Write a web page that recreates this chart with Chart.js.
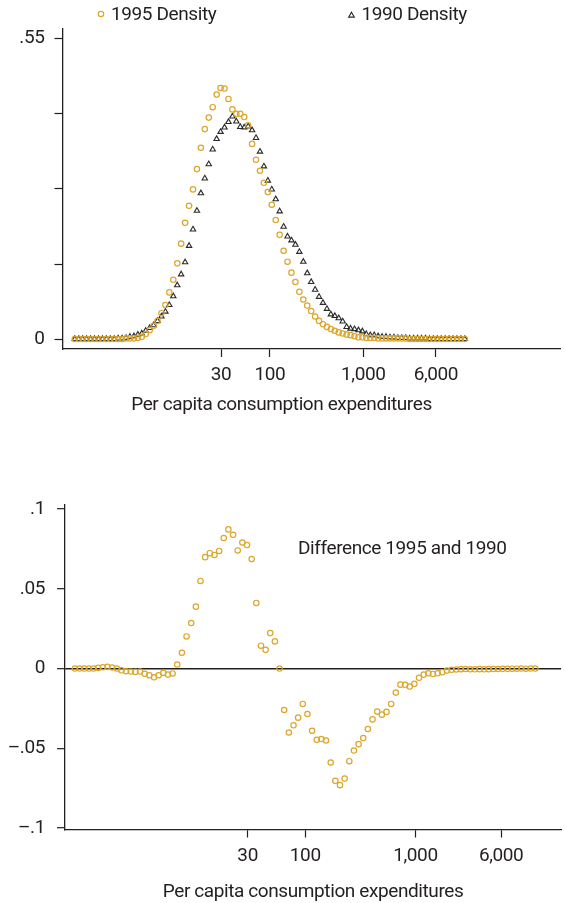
<!DOCTYPE html>
<html><head><meta charset="utf-8">
<script src="https://cdn.jsdelivr.net/npm/chart.js@4/dist/chart.umd.min.js"></script>
<style>
html,body{margin:0;padding:0;background:#fff;}
#wrap{position:relative;width:565px;height:903px;overflow:hidden;background:#fff;}
#topChart{position:absolute;left:0;top:0;}
#botChart{position:absolute;left:0;top:425px;}
</style></head><body>
<div id="wrap"><canvas id="topChart" width="565" height="425"></canvas><canvas id="botChart" width="565" height="478"></canvas></div>
<script>
// ---------- data ----------
const expenditure = [
0.813,0.896,0.987,1.088,1.199,1.321,1.456,1.605,1.768,1.949,
2.148,2.367,2.608,2.874,3.168,3.491,3.847,4.240,4.672,5.149,
5.675,6.254,6.892,7.595,8.370,9.226,10.17,11.20,12.35,13.61,
15.00,16.53,18.21,20.07,22.12,24.38,26.87,29.61,32.63,35.96,
39.63,43.67,48.13,53.04,58.45,64.42,70.99,78.23,86.21,95.02,
104.7,115.4,127.2,140.2,154.5,170.2,187.6,206.7,227.8,251.1,
276.7,304.9,336.0,370.3,408.1,449.8,495.6,546.2,601.9,663.3,
731.1,805.6,887.8,978.6,1078,1189,1310,1443,1591,1753,
1932,2129,2347,2586,2850,3141,3461,3815,4204,4633,
5105,5626,6200,6833,7530,8299,9146,10080,11110,12240];

const density1995 = [
0.001,0.001,0.001,0.001,0.001,0.001,0.001,0.001,0.001,0.001,
0.001,0.001,0.001,0.002,0.002,0.002,0.003,0.005,0.010,0.017,
0.025,0.034,0.048,0.063,0.086,0.109,0.139,0.175,0.213,0.244,
0.274,0.311,0.350,0.384,0.405,0.424,0.447,0.459,0.458,0.439,
0.420,0.412,0.412,0.406,0.391,0.357,0.328,0.308,0.286,0.269,
0.246,0.218,0.191,0.162,0.142,0.122,0.105,0.087,0.073,0.062,
0.052,0.042,0.034,0.028,0.023,0.019,0.016,0.013,0.011,0.009,
0.008,0.006,0.004,0.004,0.003,0.003,0.003,0.002,0.002,0.002,
0.002,0.002,0.002,0.002,0.002,0.001,0.001,0.001,0.001,0.001,
0.001,0.001,0.001,0.001,0.001,0.001,0.001,0.001,0.001,0.001];

const density1990 = [
0.001,0.001,0.001,0.001,0.001,0.001,0.001,0.001,0.001,0.001,
0.001,0.002,0.002,0.003,0.005,0.006,0.009,0.011,0.016,0.021,
0.026,0.034,0.042,0.051,0.063,0.079,0.099,0.119,0.141,0.171,
0.201,0.235,0.267,0.294,0.320,0.347,0.366,0.379,0.387,0.397,
0.407,0.398,0.388,0.387,0.389,0.382,0.368,0.343,0.316,0.290,
0.274,0.256,0.234,0.206,0.188,0.181,0.173,0.160,0.142,0.121,
0.105,0.091,0.078,0.067,0.056,0.046,0.043,0.039,0.033,0.023,
0.020,0.019,0.017,0.015,0.010,0.008,0.008,0.006,0.005,0.005,
0.004,0.004,0.003,0.003,0.003,0.002,0.002,0.002,0.002,0.002,
0.001,0.001,0.001,0.001,0.001,0.001,0.001,0.001,0.001,0.001];

const difference = [
0.0000,0.0000,0.0000,0.0000,0.0000,0.0004,0.0008,0.0011,0.0006,0.0000,
-0.0011,-0.0017,-0.0019,-0.0021,-0.0019,-0.0033,-0.0042,-0.0055,-0.0042,-0.0027,
-0.0038,-0.0031,0.0025,0.0099,0.0201,0.0285,0.0388,0.0549,0.0698,0.0723,
0.0712,0.0737,0.0818,0.0872,0.0838,0.0740,0.0790,0.0774,0.0686,0.0411,
0.0143,0.0117,0.0222,0.0170,0.0000,-0.0260,-0.0401,-0.0356,-0.0308,-0.0222,
-0.0285,-0.0390,-0.0447,-0.0442,-0.0451,-0.0589,-0.0704,-0.0731,-0.0690,-0.0581,
-0.0514,-0.0474,-0.0436,-0.0379,-0.0319,-0.0270,-0.0289,-0.0272,-0.0222,-0.0151,
-0.0101,-0.0102,-0.0113,-0.0096,-0.0058,-0.0038,-0.0030,-0.0034,-0.0030,-0.0023,
-0.0013,-0.0008,-0.0006,-0.0004,-0.0003,-0.0005,-0.0005,-0.0004,-0.0005,-0.0004,
-0.0003,-0.0003,-0.0002,-0.0002,-0.0001,-0.0001,0.0000,-0.0001,0.0000,0.0000];

const seriesLabels = ['1995 Density', '1990 Density'];
const differenceLabel = 'Difference 1995 and 1990';
const xAxisTitle = 'Per capita consumption expenditures';
const xTickValues = [30, 100, 1000, 6000];
const topYTickValues = [0, 0.1375, 0.275, 0.4125, 0.55];
const topYTickLabels = ['0', '', '', '', '.55'];
const botYTickValues = [-0.1, -0.05, 0, 0.05, 0.1];
const botYTickLabels = ['\u2013.1', '\u2013.05', '0', '.05', '.1'];

// ---------- style ----------
const FONT = 'Roboto, "Liberation Sans", sans-serif';
const DARK = '#231f20';
const GOLD = '#dba62b';
const FS = 19;
const SPACING = '-0.4px';
Chart.defaults.font.family = FONT;
Chart.defaults.font.size = FS;
Chart.defaults.color = DARK;

// slightly condensed lettering, applied to both measuring and drawing
Chart.register({
  id: 'tightText',
  beforeUpdate(chart) { chart.ctx.letterSpacing = SPACING; },
  beforeDraw(chart) { chart.ctx.letterSpacing = SPACING; }
});

function xAxis(min, max, h, withTitle) {
  return {
    type: 'logarithmic', min: min, max: max,
    border: {display: true, color: DARK, width: 1.3},
    grid: {display: true, drawOnChartArea: false, drawTicks: true, tickLength: 8, tickColor: DARK, tickWidth: 1.2},
    ticks: {autoSkip: false, maxRotation: 0, minRotation: 0, padding: 7, color: DARK, font: {size: FS},
      callback: (v) => Number(v).toLocaleString('en-US')},
    afterBuildTicks: (s) => { s.ticks = xTickValues.map(v => ({value: v})); },
    afterFit: (s) => { s.height = h; },
    title: withTitle ? {display: true, text: xAxisTitle, color: DARK, font: {size: FS, lineHeight: 1}, padding: {top: 0, bottom: 1.5}} : {display: false}
  };
}

// legend drawn from the dataset styles (items spaced like the original)
const legendSpots = [{mx: 101, my: 14, tx: 111, ty: 15.5}, {mx: 351.5, my: 15.5, tx: 361.5, ty: 15.5}];
const manualLegend = {
  id: 'manualLegend',
  afterDraw(chart) {
    const ctx = chart.ctx;
    chart.data.datasets.forEach((ds, i) => {
      const s = legendSpots[i];
      ctx.save();
      ctx.letterSpacing = SPACING;
      ctx.strokeStyle = ds.borderColor;
      ctx.fillStyle = 'rgba(255,255,255,0)';
      ctx.lineWidth = ds.borderWidth;
      Chart.helpers.drawPoint(ctx, {pointStyle: ds.pointStyle, radius: ds.pointStyle === 'triangle' ? 3.3 : 2.7, borderWidth: ds.borderWidth, rotation: 0}, s.mx, s.my);
      ctx.fillStyle = DARK;
      ctx.font = FS + 'px ' + FONT;
      ctx.textAlign = 'left';
      ctx.textBaseline = 'middle';
      ctx.fillText(ds.label, s.tx, s.ty);
      ctx.restore();
    });
  }
};

// ---------- top chart ----------
new Chart(document.getElementById('topChart'), {
  type: 'scatter',
  data: {
    datasets: [
      {label: seriesLabels[0], data: expenditure.map((x, i) => ({x: x, y: density1995[i]})),
       pointStyle: 'circle', pointRadius: 2.7, pointHoverRadius: 2.7, borderWidth: 1.2,
       borderColor: GOLD, backgroundColor: 'rgba(255,255,255,0)'},
      {label: seriesLabels[1], data: expenditure.map((x, i) => ({x: x, y: density1990[i]})),
       pointStyle: 'triangle', pointRadius: 3.1, pointHoverRadius: 3.1, borderWidth: 1.1,
       borderColor: '#2a2a2a', backgroundColor: 'rgba(255,255,255,0)'}
    ]
  },
  options: {
    responsive: false, animation: false, devicePixelRatio: 1,
    layout: {padding: {top: 29, right: 2, bottom: 0, left: 0}},
    events: [],
    plugins: {
      legend: {display: false},
      title: {display: true, position: 'bottom', text: xAxisTitle, color: DARK,
        font: {size: FS, lineHeight: 1, weight: 'normal'}, padding: {top: 0, bottom: 10.5}},
      tooltip: {enabled: false}
    },
    scales: {
      x: xAxis(0.624, 130600, 46.5, false),
      y: {
        min: -0.0173, max: 0.5667,
        border: {display: true, color: DARK, width: 1.3},
        grid: {display: true, drawOnChartArea: false, drawTicks: true, tickLength: 8, tickColor: DARK, tickWidth: 1.2},
        ticks: {padding: 10, color: DARK, font: {size: FS},
          callback: (v) => { const k = topYTickValues.indexOf(v); return k >= 0 ? topYTickLabels[k] : ''; }},
        afterBuildTicks: (s) => { s.ticks = topYTickValues.map(v => ({value: v})); },
        afterFit: (s) => { s.width = 62.5; }
      }
    }
  },
  plugins: [manualLegend]
});

// ---------- bottom chart ----------
const diffLabelPlugin = {
  id: 'diffLabel',
  afterDatasetsDraw(chart) {
    const ctx = chart.ctx, a = chart.chartArea;
    ctx.save();
    ctx.letterSpacing = SPACING;
    ctx.font = FS + 'px ' + FONT;
    ctx.fillStyle = DARK;
    ctx.textAlign = 'left';
    ctx.textBaseline = 'middle';
    ctx.fillText(differenceLabel, a.left + 233, a.top + 44);
    ctx.restore();
  }
};

new Chart(document.getElementById('botChart'), {
  type: 'scatter',
  data: {
    datasets: [
      {label: differenceLabel, data: expenditure.map((x, i) => ({x: x, y: difference[i]})),
       pointStyle: 'circle', pointRadius: 2.7, pointHoverRadius: 2.7, borderWidth: 1.2,
       borderColor: GOLD, backgroundColor: 'rgba(255,255,255,0)'}
    ]
  },
  options: {
    responsive: false, animation: false, devicePixelRatio: 1,
    layout: {padding: {top: 80, right: 0, bottom: 0, left: 0}},
    events: [],
    plugins: {legend: {display: false}, tooltip: {enabled: false}},
    scales: {
      x: xAxis(0.660, 20990, 73.5, true),
      y: {
        min: -0.1009, max: 0.1025,
        border: {display: true, color: DARK, width: 1.3},
        grid: {display: true, drawOnChartArea: true, drawTicks: true, tickLength: 8,
          color: (c) => (c.tick && c.tick.value === 0) ? DARK : 'rgba(0,0,0,0)',
          lineWidth: 1.4, tickColor: DARK, tickWidth: 1.2},
        ticks: {padding: 12, color: DARK, font: {size: FS},
          callback: (v) => { const k = botYTickValues.indexOf(v); return k >= 0 ? botYTickLabels[k] : ''; }},
        afterBuildTicks: (s) => { s.ticks = botYTickValues.map(v => ({value: v})); },
        afterFit: (s) => { s.width = 65; }
      }
    }
  },
  plugins: [diffLabelPlugin]
});
</script>
</body></html>
